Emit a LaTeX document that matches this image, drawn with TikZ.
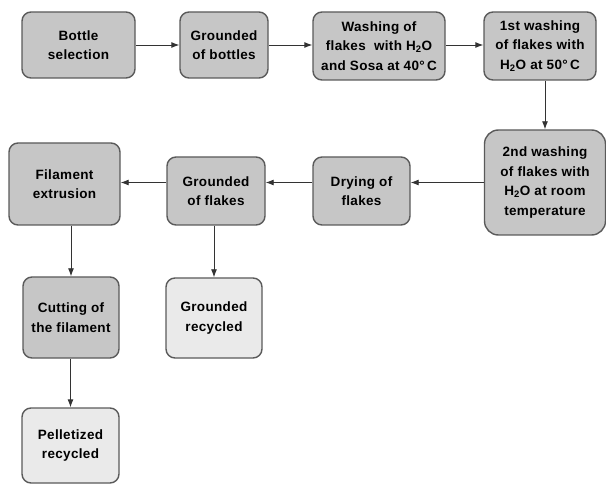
\documentclass[tikz,border=0pt]{standalone}
\usepackage{fontspec}
\setmainfont{Liberation Sans}
\newfontfamily\boxfont[LetterSpace=2.5]{Liberation Sans}
\usetikzlibrary{arrows.meta}
\definecolor{boxdark}{HTML}{C6C6C6}
\definecolor{boxlight}{HTML}{EAEAEA}
\definecolor{edge}{HTML}{5A5A5A}
\tikzset{
  procbox/.style={draw=edge, line width=1.4pt, rounded corners=9pt, fill=boxdark,
    align=center, inner sep=0pt, font=\boxfont\bfseries\fontsize{13.5}{19.5}\selectfont},
  endbox/.style={procbox, fill=boxlight},
  flow/.style={draw=black!80, line width=0.9pt, -{Latex[length=8pt,width=6pt]}}
}
\begin{document}
\begin{tikzpicture}[x=1pt,y=-1pt]
\useasboundingbox (0,0) rectangle (606,484);
\node[procbox, minimum width=113pt, minimum height=66pt] (n1) at (78.5,45) {Bottle\\selection};
\node[procbox, minimum width=88pt, minimum height=66pt] (n2) at (224,45) {Grounded\\of bottles};
\node[procbox, minimum width=132pt, minimum height=68pt] (n3) at (379,46) {Washing of\\flakes\ \ with H\textsubscript{2}O\\and Sosa at 40°\,C};
\node[procbox, minimum width=112pt, minimum height=68pt] (n4) at (540,46) {1st washing\\of flakes with\\H\textsubscript{2}O at 50°\,C};
\node[procbox, minimum width=121pt, minimum height=105pt, rounded corners=14pt] (n5) at (545,182.5) {2nd washing\\of flakes with\\H\textsubscript{2}O at room\\temperature};
\node[procbox, minimum width=97pt, minimum height=68pt] (n6) at (361.5,191) {Drying of\\flakes};
\node[procbox, minimum width=98pt, minimum height=68pt] (n7) at (216,191) {Grounded\\of flakes};
\node[procbox, minimum width=111pt, minimum height=82pt] (n8) at (64.5,184) {Filament\\extrusion};
\node[procbox, minimum width=96pt, minimum height=81pt] (n9) at (71,317.5) {Cutting of\\the filament};
\node[endbox, minimum width=96pt, minimum height=80pt] (n10) at (214,318) {Grounded\\recycled};
\node[endbox, minimum width=97pt, minimum height=75pt] (n11) at (70.5,445.5) {Pelletized\\recycled};
\draw[flow] (n1.east) -- (n2.west);
\draw[flow] (n2.east) -- (n2.east -| n3.west);
\draw[flow] (n3.east |- n2.east) -- (n2.east -| n4.west);
\draw[flow] (n5.north |- n4.south) -- (n5.north);
\draw[flow] (n5.west) -- (n5.west -| n6.east);
\draw[flow] (n6.west |- n5.west) -- (n5.west -| n7.east);
\draw[flow] (n7.west |- n5.west) -- (n5.west -| n8.east);
\draw[flow] (n9.north |- n8.south) -- (n9.north);
\draw[flow] (n10.north |- n7.south) -- (n10.north);
\draw[flow] (n11.north |- n9.south) -- (n11.north);
\end{tikzpicture}
\end{document}
